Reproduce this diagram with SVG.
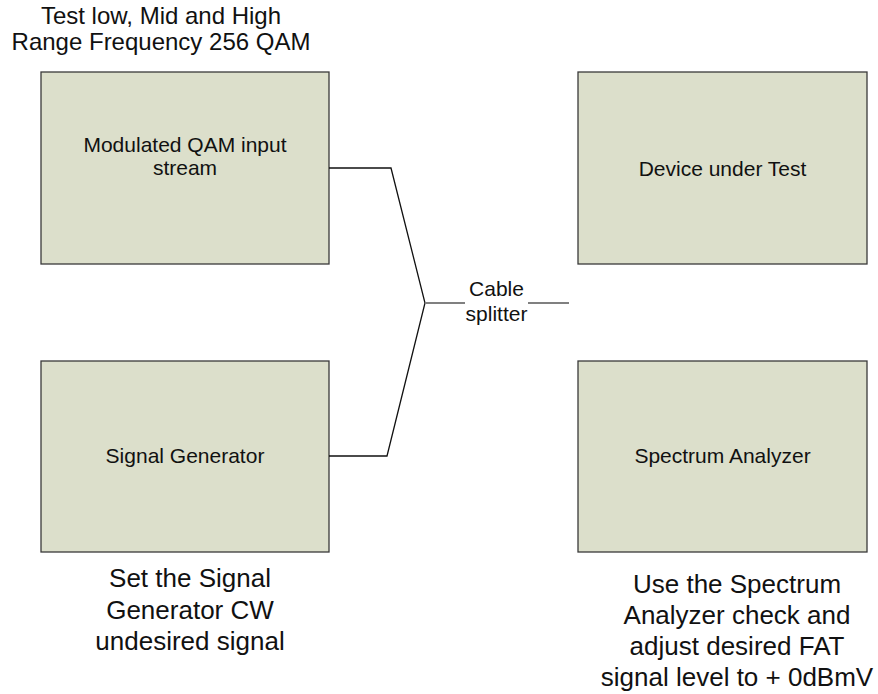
<svg xmlns="http://www.w3.org/2000/svg" width="878" height="694" viewBox="0 0 878 694">
<style>
.box{fill:#dcdfcb;stroke:#3a3a3a;stroke-width:1.3}
.t{font-family:"Liberation Sans",Arial,sans-serif;fill:#111;text-anchor:middle}
.s{font-size:21px}
.b{font-size:24px}
.c{font-size:26px}
.w{fill:none;stroke:#111;stroke-width:1.3}
.g{fill:none;stroke:#808080;stroke-width:2}
</style>
<rect width="878" height="694" fill="#fff"/>
<g id="title">
<text class="t b" x="161" y="24">Test low, Mid and High</text>
<text class="t b" x="161" y="50">Range Frequency 256 QAM</text>
</g>
<g id="qam">
<rect class="box" x="41" y="72" width="288" height="192"/>
<text class="t s" x="185" y="152">Modulated QAM input</text>
<text class="t s" x="185" y="175">stream</text>
</g>
<g id="dut">
<rect class="box" x="578" y="72" width="289" height="192"/>
<text class="t s" x="722.5" y="176">Device under Test</text>
</g>
<g id="siggen">
<rect class="box" x="41" y="361" width="288" height="191"/>
<text class="t s" x="185" y="463">Signal Generator</text>
</g>
<g id="spectrum">
<rect class="box" x="578" y="361" width="289" height="191"/>
<text class="t s" x="722.5" y="463">Spectrum Analyzer</text>
</g>
<g id="connectors">
<polyline class="w" points="329,168 391,168 425,303 387,456 329,456"/>
<line class="g" x1="425" y1="303" x2="465" y2="303"/>
<line class="g" x1="528" y1="303" x2="569" y2="303"/>
<text class="t s" x="496.5" y="296">Cable</text>
<text class="t s" x="496.5" y="321">splitter</text>
</g>
<g id="note-left">
<text class="t c" x="190" y="587">Set the Signal</text>
<text class="t c" x="190" y="619">Generator CW</text>
<text class="t c" x="190" y="650">undesired signal</text>
</g>
<g id="note-right">
<text class="t c" x="737" y="593">Use the Spectrum</text>
<text class="t c" x="737" y="624">Analyzer check and</text>
<text class="t c" x="737" y="655">adjust desired FAT</text>
<text class="t c" x="737" y="686">signal level to + 0dBmV</text>
</g>
</svg>
